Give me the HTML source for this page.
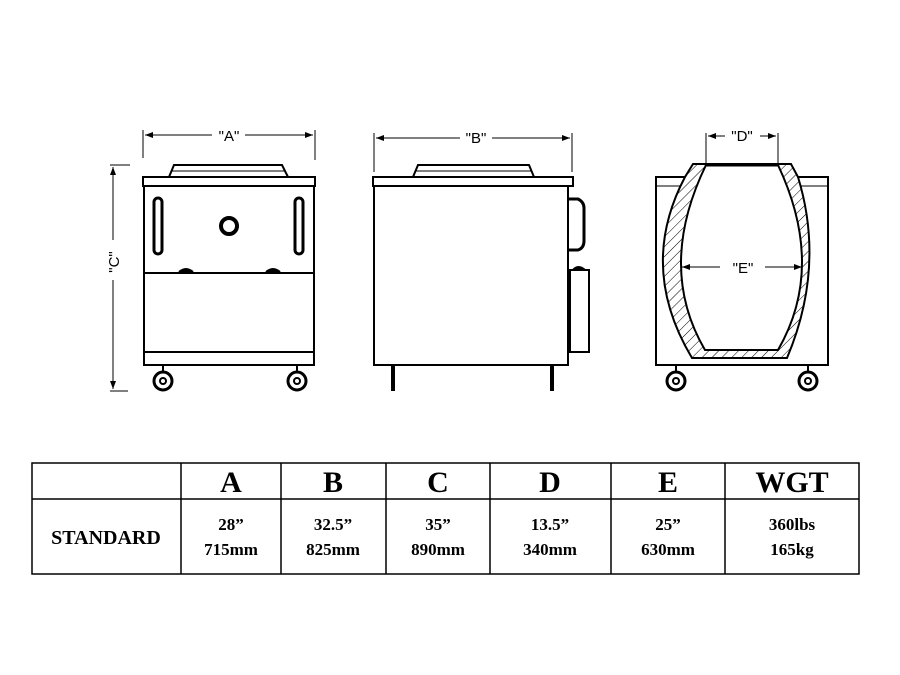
<!DOCTYPE html>
<html><head><style>
body{margin:0;background:#fff;width:900px;height:675px;overflow:hidden}
svg{position:absolute;left:0;top:0}
text{font-family:"Liberation Serif",serif;font-weight:bold;fill:#000}
.d{font-family:"Liberation Sans",sans-serif;font-weight:normal;font-size:15px}
</style></head><body>
<svg width="900" height="675" viewBox="0 0 900 675">
<defs>
<pattern id="h" width="7" height="7" patternUnits="userSpaceOnUse" patternTransform="rotate(45)">
<line x1="0" y1="0" x2="0" y2="7" stroke="#000" stroke-width="1"/></pattern>
<marker id="a" markerWidth="8" markerHeight="6" refX="8" refY="3" orient="auto"><path d="M0,0L8,3L0,6z" fill="#000"/></marker>
</defs>
<g stroke="#000" fill="none" stroke-width="2">
<!-- FRONT -->
<line x1="143" y1="130" x2="143" y2="158" stroke-width="1"/>
<line x1="315" y1="130" x2="315" y2="160" stroke-width="1"/>
<line x1="170" y1="135" x2="145" y2="135" stroke-width="1" marker-end="url(#a)"/>
<line x1="290" y1="135" x2="313" y2="135" stroke-width="1" marker-end="url(#a)"/>
<line x1="170" y1="135" x2="212" y2="135" stroke-width="1"/>
<line x1="245" y1="135" x2="290" y2="135" stroke-width="1"/>
<line x1="110" y1="165" x2="130" y2="165" stroke-width="1"/>
<line x1="110" y1="391" x2="128" y2="391" stroke-width="1"/>
<line x1="113" y1="240" x2="113" y2="167" stroke-width="1" marker-end="url(#a)"/>
<line x1="113" y1="280" x2="113" y2="389" stroke-width="1" marker-end="url(#a)"/>
<path d="M169,177 L174,165 L282,165 L288,177"/>
<line x1="172" y1="171" x2="285" y2="171" stroke-width="1"/>
<rect x="143" y="177" width="172" height="9"/>
<rect x="144" y="186" width="170" height="179"/>
<line x1="144" y1="273" x2="314" y2="273"/>
<line x1="144" y1="352" x2="314" y2="352"/>
<rect x="154" y="198" width="8" height="56" rx="4" stroke-width="3"/>
<rect x="295" y="198" width="8" height="56" rx="4" stroke-width="3"/>
<circle cx="229" cy="226" r="8" stroke-width="4"/>
<path d="M179,272 q7,-6 14,0" fill="#000"/>
<path d="M266,272 q7,-6 14,0" fill="#000"/>
<line x1="163" y1="365" x2="163" y2="372" /><line x1="297" y1="365" x2="297" y2="372"/>
<circle cx="163" cy="381" r="9" stroke-width="3"/><circle cx="163" cy="381" r="3"/>
<circle cx="297" cy="381" r="9" stroke-width="3"/><circle cx="297" cy="381" r="3"/>
<!-- SIDE -->
<line x1="374" y1="133" x2="374" y2="172" stroke-width="1"/>
<line x1="572" y1="133" x2="572" y2="172" stroke-width="1"/>
<line x1="410" y1="138" x2="376" y2="138" stroke-width="1" marker-end="url(#a)"/>
<line x1="540" y1="138" x2="570" y2="138" stroke-width="1" marker-end="url(#a)"/>
<line x1="410" y1="138" x2="460" y2="138" stroke-width="1"/>
<line x1="492" y1="138" x2="540" y2="138" stroke-width="1"/>
<path d="M413,177 L418,165 L529,165 L534,177"/>
<line x1="416" y1="171" x2="531" y2="171" stroke-width="1"/>
<rect x="373" y="177" width="200" height="9"/>
<rect x="374" y="186" width="194" height="179"/>
<path d="M569,199 L578,199 Q584,202 584,208 L584,241 Q584,248 578,250 L569,250" stroke-width="3"/>
<rect x="570" y="270" width="19" height="82"/>
<path d="M573,270 q5,-6 12,0" fill="#000"/>
<line x1="393" y1="365" x2="393" y2="391" stroke-width="4"/>
<line x1="552" y1="365" x2="552" y2="391" stroke-width="4"/>
<!-- RIGHT -->
<line x1="706" y1="133" x2="706" y2="165" stroke-width="1"/>
<line x1="778" y1="133" x2="778" y2="165" stroke-width="1"/>
<line x1="725" y1="136" x2="708" y2="136" stroke-width="1" marker-end="url(#a)"/>
<line x1="760" y1="136" x2="776" y2="136" stroke-width="1" marker-end="url(#a)"/>
<rect x="656" y="177" width="172" height="188"/>
<line x1="656" y1="186" x2="828" y2="186" stroke-width="1"/>
<path d="M693,164 L791,164 L798,177 Q825.5,267 787,358 L692,358 Q637.5,267 685,177 Z" fill="#fff" stroke="none"/>
<path d="M693,164 L791,164 L798,177 Q825.5,267 787,358 L692,358 Q637.5,267 685,177 Z" fill="url(#h)" stroke-width="2"/>
<path d="M706,165 L778,165 Q826,267 778,350 L705,350 Q656.5,267 706,165 Z" fill="#fff" stroke-width="2"/>
<line x1="706" y1="165" x2="778" y2="165" stroke-width="3"/>
<line x1="720" y1="267" x2="682" y2="267" stroke-width="1" marker-end="url(#a)"/>
<line x1="765" y1="267" x2="802" y2="267" stroke-width="1" marker-end="url(#a)"/>
<line x1="676" y1="365" x2="676" y2="372"/><line x1="808" y1="365" x2="808" y2="372"/>
<circle cx="676" cy="381" r="9" stroke-width="3"/><circle cx="676" cy="381" r="3"/>
<circle cx="808" cy="381" r="9" stroke-width="3"/><circle cx="808" cy="381" r="3"/>
<!-- TABLE -->
<rect x="32" y="463" width="827" height="111" stroke-width="1.5"/>
<line x1="32" y1="499" x2="859" y2="499" stroke-width="1.5"/>
<g stroke-width="1.5">
<line x1="181" y1="463" x2="181" y2="574"/><line x1="281" y1="463" x2="281" y2="574"/>
<line x1="386" y1="463" x2="386" y2="574"/><line x1="490" y1="463" x2="490" y2="574"/>
<line x1="611" y1="463" x2="611" y2="574"/><line x1="725" y1="463" x2="725" y2="574"/>
</g>
</g>
<text class="d" x="229" y="141" text-anchor="middle">"A"</text>
<text class="d" x="476" y="143" text-anchor="middle">"B"</text>
<text class="d" x="742" y="141" text-anchor="middle">"D"</text>
<text class="d" x="743" y="273" text-anchor="middle">"E"</text>
<text class="d" x="0" y="0" text-anchor="middle" transform="translate(119,262) rotate(-90)">"C"</text>
<g font-size="30" text-anchor="middle">
<text x="231" y="492">A</text><text x="333" y="492">B</text><text x="438" y="492">C</text>
<text x="550" y="492">D</text><text x="668" y="492">E</text><text x="792" y="492">WGT</text>
</g>
<text x="106" y="544" font-size="20" text-anchor="middle">STANDARD</text>
<g font-size="17" text-anchor="middle">
<text x="231" y="530">28”</text><text x="231" y="555">715mm</text>
<text x="333" y="530">32.5”</text><text x="333" y="555">825mm</text>
<text x="438" y="530">35”</text><text x="438" y="555">890mm</text>
<text x="550" y="530">13.5”</text><text x="550" y="555">340mm</text>
<text x="668" y="530">25”</text><text x="668" y="555">630mm</text>
<text x="792" y="530">360lbs</text><text x="792" y="555">165kg</text>
</g>
</svg>
</body></html>
